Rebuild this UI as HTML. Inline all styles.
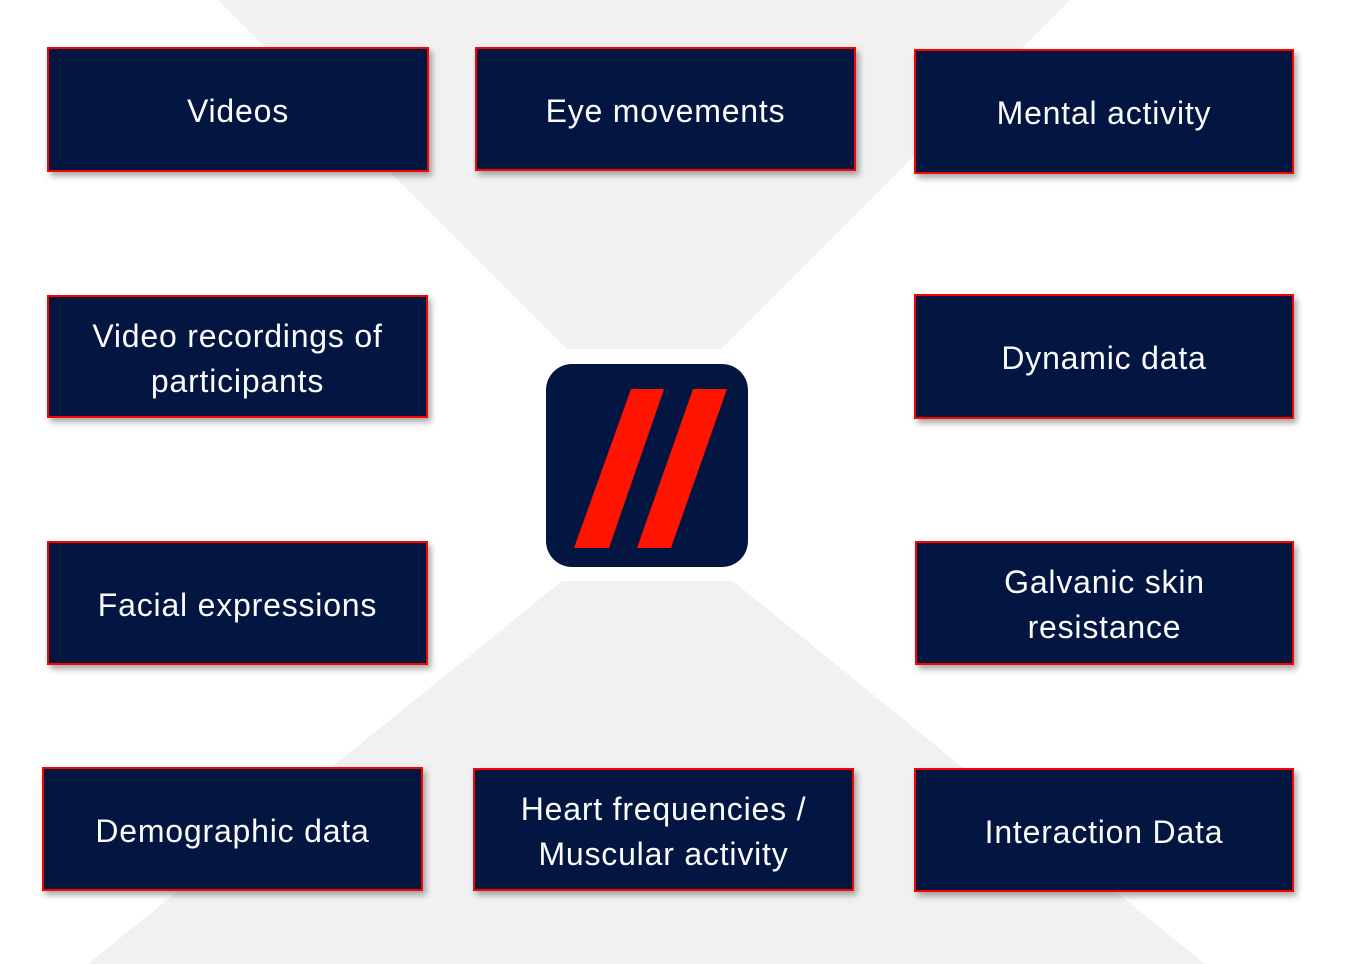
<!DOCTYPE html>
<html>
<head>
<meta charset="utf-8">
<style>
  html,body{margin:0;padding:0;}
  body{width:1355px;height:964px;position:relative;overflow:hidden;background:#ffffff;font-family:"Liberation Sans",Arial,sans-serif;}
  svg.bg{position:absolute;left:0;top:0;}
  .b{position:absolute;box-sizing:border-box;background:#021641;border:2px solid #ff0000;
     box-shadow:3px 4px 6px rgba(0,0,0,0.35);display:flex;align-items:center;justify-content:center;
     text-align:center;color:#fbfbfb;font-size:32px;line-height:45px;letter-spacing:0.8px;padding-top:4px;}
</style>
</head>
<body>
<svg class="bg" width="1355" height="964" viewBox="0 0 1355 964">
  <polygon points="218,0 1070,0 721,349 567,349" fill="#f1f1f1"/>
  <polygon points="562,581 733,581 1205,964 88,964" fill="#f1f1f1"/>
  <rect x="546" y="364" width="202" height="203" rx="26" ry="26" fill="#021641"/>
  <polygon points="631,389 664,389 609,548 574,548" fill="#ff1400"/>
  <polygon points="693,389 727,389 671,548 637,548" fill="#ff1400"/>
</svg>

<div class="b" style="left:47px;top:47px;width:382px;height:125px;">Videos</div>
<div class="b" style="left:475px;top:47px;width:381px;height:124px;">Eye movements</div>
<div class="b" style="left:914px;top:49px;width:380px;height:125px;">Mental activity</div>

<div class="b" style="left:47px;top:295px;width:381px;height:123px;">Video recordings of<br>participants</div>
<div class="b" style="left:914px;top:294px;width:380px;height:125px;">Dynamic data</div>

<div class="b" style="left:47px;top:541px;width:381px;height:124px;">Facial expressions</div>
<div class="b" style="left:915px;top:541px;width:379px;height:124px;">Galvanic skin<br>resistance</div>

<div class="b" style="left:42px;top:767px;width:381px;height:124px;">Demographic data</div>
<div class="b" style="left:473px;top:768px;width:381px;height:123px;">Heart frequencies /<br>Muscular activity</div>
<div class="b" style="left:914px;top:768px;width:380px;height:124px;">Interaction Data</div>
</body>
</html>
